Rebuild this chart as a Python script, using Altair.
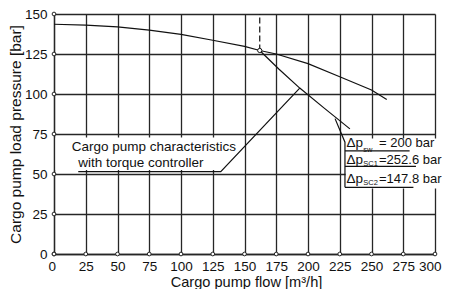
import altair as alt
import pandas as pd

# ---- data ----
x_ticks = list(range(0, 301, 25))
y_ticks = list(range(0, 151, 25))

main_flow = [0, 25, 50, 75, 100, 125, 150, 162, 175, 200, 225, 250, 262]
main_pres = [143.6, 143.1, 141.9, 139.9, 137.3, 133.6, 129.8, 127.2, 125.0, 119.0, 110.8, 102.5, 96.5]

torque_flow = [162, 177, 193.5, 213, 233]
torque_pres = [127.2, 115.6, 103.7, 91.0, 78.2]

limit_flow = [162, 162]
limit_pres = [127.2, 150]

lead1_flow = [19.1, 131.3, 193.5]
lead1_pres = [51.5, 51.5, 103.7]
lead2_flow = [221.3, 229.1, 229.1]
lead2_pres = [84.6, 69.9, 41.7]
under_flow = [[229.1, 280], [229.1, 285], [229.1, 283]]
under_pres = [64.4, 54.8, 41.7]

box_x = [[1.2, 146.5], [229.6, 313]]
box_y = [[52.5, 72.8], [41.0, 72.2]]

ann_text = ["Cargo pump characteristics", "with torque controller",
            "Δp", "Δp", "Δp", "sw", "SC1", "SC2",
            "= 200 bar", "=252.6 bar", "=147.8 bar"]
ann_x = [13.9, 19.1, 230.3, 230.3, 230.3, 243.6, 243.6, 243.6, 255.9, 255.9, 255.9]
ann_y = [64.4, 54.2, 66.6, 56.3, 44.6, 63.8, 55.0, 43.2, 66.6, 56.3, 44.6]
ann_size = [13.5, 13.5, 13.5, 13.5, 13.5, 7.5, 7.5, 7.5, 13, 13, 13]

# ---- tables ----
segs = []
for i, (fx, py) in enumerate([(main_flow, main_pres), (torque_flow, torque_pres),
                               (lead1_flow, lead1_pres), (lead2_flow, lead2_pres)]):
    for j, (a, b) in enumerate(zip(fx, py)):
        segs.append({"x": a, "y": b, "seg": f"s{i}", "o": j})
for k, (fx, py) in enumerate(zip(under_flow, under_pres)):
    for j, a in enumerate(fx):
        segs.append({"x": a, "y": py, "seg": f"u{k}", "o": j})
lines_df = pd.DataFrame(segs)
dash_df = pd.DataFrame({"x": limit_flow, "y": limit_pres})
box_df = pd.DataFrame({"x": [b[0] for b in box_x], "x2": [b[1] for b in box_x],
                       "y": [b[0] for b in box_y], "y2": [b[1] for b in box_y]})
tick_df = pd.DataFrame({"x": x_ticks + [0] * len(y_ticks),
                        "y": [0] * len(x_ticks) + y_ticks})
ann_df = pd.DataFrame({"x": ann_x, "y": ann_y, "t": ann_text, "s": ann_size})
pt_df = pd.DataFrame({"x": [limit_flow[0]], "y": [limit_pres[0]]})

FONT = "Liberation Sans"
GRID = "#262626"

X = alt.X("x:Q", scale=alt.Scale(domain=[0, 300], nice=False),
          axis=alt.Axis(values=x_ticks, title="Cargo pump flow [m³/h]", grid=True,
                        gridColor=GRID, gridWidth=1.3, gridOpacity=1,
                        domainColor=GRID, domainWidth=1.3, ticks=False, tickSize=0,
                        labelPadding=5, labelFont=FONT, labelFontSize=13.5,
                        labelColor="#111", labelFlush=True, labelFlushOffset=6,
                        titleFont=FONT, titleFontSize=14.6, titleFontWeight="normal",
                        titleColor="#111", titleX=192, titleY=32,
                        titleBaseline="alphabetic"))
Y = alt.Y("y:Q", scale=alt.Scale(domain=[0, 150], nice=False),
          axis=alt.Axis(values=y_ticks, title="Cargo pump load pressure [bar]", grid=True,
                        gridColor=GRID, gridWidth=1.3, gridOpacity=1,
                        domainColor=GRID, domainWidth=1.3, ticks=False, tickSize=0,
                        labelPadding=7, labelFont=FONT, labelFontSize=13.5,
                        labelColor="#111", labelFlush=False,
                        titleFont=FONT, titleFontSize=15.5, titleFontWeight="normal",
                        titleColor="#111", titleX=-31, titleY=120,
                        titleBaseline="bottom"))

boxes = alt.Chart(box_df).mark_rect(color="white", opacity=1).encode(
    x=X, x2="x2", y=Y, y2="y2")
lines = alt.Chart(lines_df).mark_line(color="#111", strokeWidth=1.2).encode(
    x=X, y=Y, detail="seg:N", order="o:Q")
dash = alt.Chart(dash_df).mark_line(color="#111", strokeWidth=1.2, strokeDash=[6, 3]).encode(
    x=X, y=Y)
ticks = alt.Chart(tick_df).mark_point(shape="circle", filled=True, fill="white",
                                       stroke=GRID, strokeWidth=1, size=14, opacity=1).encode(
    x=X, y=Y)
pt = alt.Chart(pt_df).mark_point(shape="circle", filled=True, fill="white",
                                 stroke="#111", strokeWidth=1, size=18, opacity=1).encode(
    x=X, y=Y)
texts = alt.Chart(ann_df).mark_text(font=FONT, align="left", baseline="alphabetic",
                                    color="#111").encode(
    x=X, y=Y, text="t:N", size=alt.Size("s:Q", scale=None))

chart = alt.layer(boxes, lines, dash, ticks, pt, texts).properties(
    width=381, height=240,
    autosize=alt.AutoSizeParams(type="none"),
    padding={"left": 46, "top": 6, "right": 7, "bottom": 35},
    background="white",
).configure_view(stroke=None)

chart.save("out.html", embed_options={"renderer": "svg", "actions": False})
